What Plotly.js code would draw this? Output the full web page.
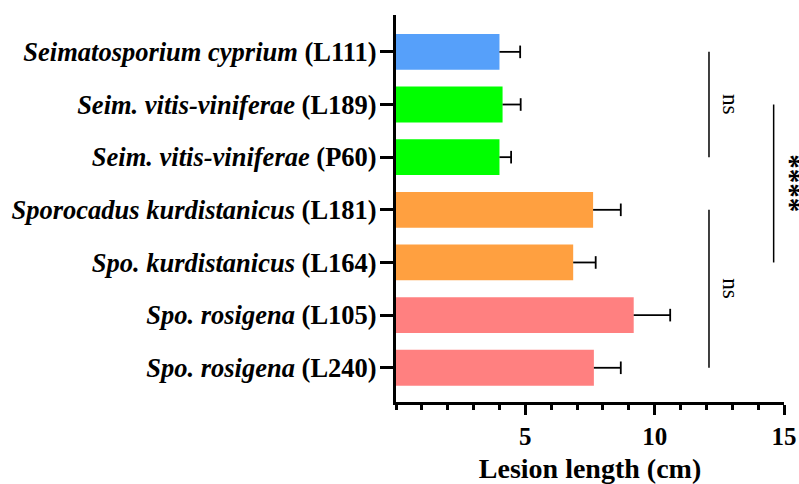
<!DOCTYPE html>
<html>
<head>
<meta charset="utf-8">
<script src="https://cdn.plot.ly/plotly-3.0.1.min.js"></script>
<style>html,body{margin:0;padding:0;background:#fff;}#chart{width:799px;height:484px;}</style>
</head>
<body>
<div id="chart"></div>
<script>
var labels = [
  "<i>Seimatosporium cyprium</i> (L111)",
  "<i>Seim. vitis-viniferae</i> (L189)",
  "<i>Seim. vitis-viniferae</i> (P60)",
  "<i>Sporocadus kurdistanicus</i> (L181)",
  "<i>Spo. kurdistanicus</i> (L164)",
  "<i>Spo. rosigena</i> (L105)",
  "<i>Spo. rosigena</i> (L240)"
];
var means = [4.0, 4.12, 4.0, 7.62, 6.85, 9.19, 7.65];
var errs = [0.8, 0.7, 0.45, 1.07, 0.87, 1.41, 1.04];
var colors = ["#56A0FA", "#00FF00", "#00FF00", "#FFA040", "#FFA040", "#FF8080", "#FF8080"];
var xTicks = [5, 10, 15];
var brackets = [
  {from: 0, to: 2, label: "ns"},
  {from: 3, to: 6, label: "ns"},
  {from: 1, to: 4, label: "****"}
];

var FONT = "'Liberation Serif', 'Times New Roman', Times, serif";

var barTrace = {
  type: "bar",
  orientation: "h",
  y: labels,
  x: means,
  marker: {color: colors, line: {width: 0}},
  hoverinfo: "none"
};

// whiskers (positive side only) built from means and errs
var wx = [], wy = [];
labels.forEach(function(l, i){
  wx.push(means[i], means[i] + errs[i], null);
  wy.push(l, l, null);
});
var whiskers = {
  type: "scatter", mode: "lines", x: wx, y: wy,
  line: {color: "#000", width: 1.8}, hoverinfo: "none", connectgaps: false
};
var caps = {
  type: "scatter", mode: "markers",
  x: means.map(function(m, i){ return m + errs[i]; }), y: labels,
  marker: {symbol: "line-ns-open", size: 9, color: "#000", line: {color: "#000", width: 1.8}},
  hoverinfo: "none"
};

var shapes = [], annotations = [];
var bx = [12.1, 12.1, 14.6];
var tx = [0.862, 0.862, 1.016];
brackets.forEach(function(b, i){
  shapes.push({type: "line", xref: "x", yref: "y", x0: bx[i], x1: bx[i], y0: b.from, y1: b.to,
               line: {color: "#000", width: 1.5}});
  var star = b.label.indexOf("*") >= 0;
  annotations.push({xref: "paper", yref: "y", x: tx[i], y: (b.from + b.to) / 2, text: b.label,
    showarrow: false, textangle: 90, xanchor: "center", yanchor: "middle",
    font: {family: FONT, size: star ? 29 : 23, color: "#000", weight: star ? "bold" : "normal"}});
});

var layout = {
  width: 799, height: 484,
  margin: {l: 396, r: 15, t: 15, b: 82, pad: 0},
  paper_bgcolor: "#fff", plot_bgcolor: "#fff",
  showlegend: false,
  bargap: 0.32,
  font: {family: FONT, color: "#000"},
  xaxis: {
    range: [0, 15], tickvals: xTicks, ticktext: xTicks.map(String),
    showgrid: false, zeroline: false, showline: true, linewidth: 3, linecolor: "#000",
    ticks: "outside", ticklen: 10, tickwidth: 3, tickcolor: "#000",
    minor: {dtick: 1, tick0: 0, ticks: "outside", ticklen: 5, tickwidth: 3, tickcolor: "#000", showgrid: false},
    tickfont: {family: FONT, size: 25, weight: "bold", color: "#000"},
    title: {text: "Lesion length (cm)", font: {family: FONT, size: 28, weight: "bold", color: "#000"}, standoff: 10},
    automargin: false, fixedrange: true
  },
  yaxis: {
    type: "category", range: [6.65, -0.7],
    showgrid: false, zeroline: false, showline: true, linewidth: 3, linecolor: "#000",
    ticks: "outside", ticklen: 13, tickwidth: 3, tickcolor: "#000",
    ticklabelstandoff: -2,
    tickfont: {family: FONT, size: 26.5, weight: "bold", color: "#000"},
    automargin: false, fixedrange: true
  },
  shapes: shapes,
  annotations: annotations
};

Plotly.newPlot("chart", [barTrace, whiskers, caps], layout, {displayModeBar: false, staticPlot: true});
</script>
</body>
</html>
